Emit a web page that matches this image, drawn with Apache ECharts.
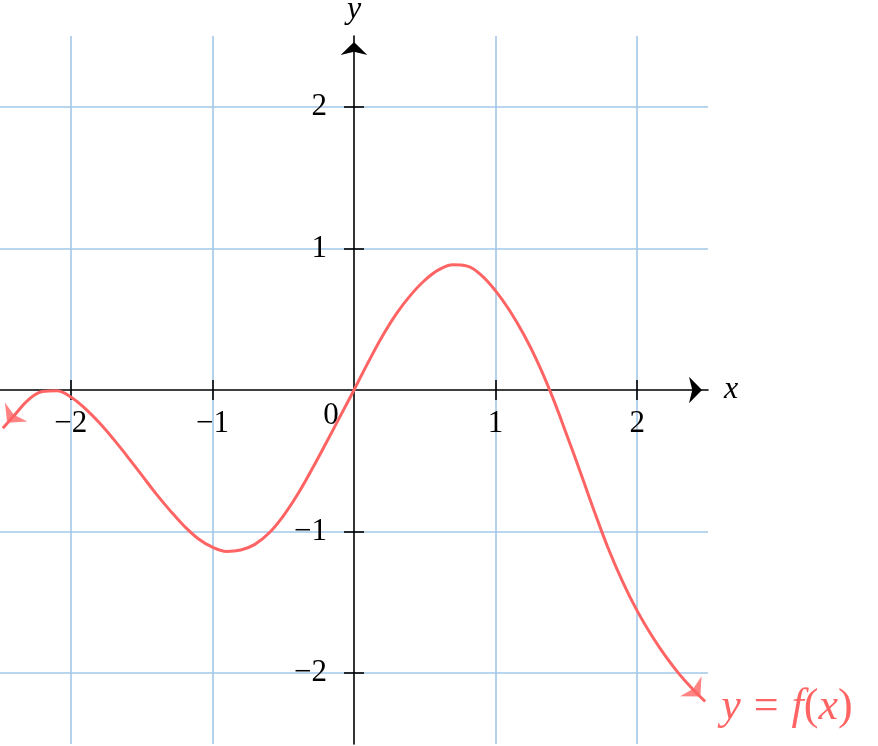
<!DOCTYPE html>
<html>
<head>
<meta charset="utf-8">
<title>y = f(x)</title>
<script src="https://cdn.jsdelivr.net/npm/echarts@6/dist/echarts.min.js"></script>
<style>
  html, body { margin: 0; padding: 0; background: #fff; }
  #chart { width: 878px; height: 746px; }
</style>
</head>
<body>
<div id="chart"></div>
<script>
// curve samples
const xs = [-2.48, -2.4, -2.3, -2.2, -2.1, -2.0, -1.9, -1.8, -1.7, -1.6, -1.5, -1.4, -1.3, -1.2,
  -1.1, -1.0, -0.9, -0.8, -0.7, -0.6, -0.5, -0.4, -0.3, -0.2, -0.1, 0, 0.1, 0.2, 0.3, 0.4,
  0.5, 0.6, 0.7, 0.8, 0.9, 1.0, 1.1, 1.2, 1.3, 1.4, 1.5, 1.6, 1.7, 1.8, 1.9, 2.0, 2.1, 2.2,
  2.3, 2.4, 2.48];
const ys = [-0.27, -0.18, -0.07, -0.01, -0.005, -0.05, -0.13, -0.23, -0.345, -0.47, -0.60, -0.73, -0.85, -0.96,
  -1.05, -1.11, -1.14, -1.13, -1.09, -1.01, -0.89, -0.74, -0.565, -0.38, -0.19, 0, 0.195, 0.38, 0.54, 0.67,
  0.775, 0.85, 0.885, 0.875, 0.81, 0.70, 0.56, 0.39, 0.19, -0.045, -0.31, -0.585, -0.865, -1.13, -1.36, -1.56, -1.73, -1.88,
  -2.01, -2.12, -2.20];

const axisMin = -2.5;
const axisMax = 2.5;
const gridTicks = [-2, -1, 1, 2];
const xLabelTicks = [-2, -1, 0, 1, 2];
const yLabelTicks = [-2, -1, 1, 2];

const RED = "#ff6464";
const BLUE = "#a3c7e9";
const FONT = "'Liberation Serif', 'DejaVu Serif', serif";

// plot box: 708 x 708 square, axes cross in its middle
const BOX = 708;
const MID = -BOX / 2;

const fmt = v => (v < 0 ? "\u2212" + Math.abs(v) : String(v));

const chart = echarts.init(document.getElementById("chart"));

const lineStyle = { color: "#000", width: 1.6 };

const baseAxis = {
  type: "value",
  min: axisMin,
  max: axisMax,
  offset: MID,
  axisLine: { onZero: false, lineStyle: lineStyle },
  axisTick: { show: true, length: 10, customValues: gridTicks, lineStyle: lineStyle },
  splitLine: { show: false }
};

const pts = xs.map((x, i) => [x, ys[i]]);
const last = pts.length - 1;

const option = {
  animation: false,
  grid: { left: 0, top: 36, width: BOX, height: BOX, outerBoundsMode: "none", containLabel: false },
  xAxis: [
    Object.assign({}, baseAxis, {
      position: "bottom",
      name: "x",
      nameLocation: "end",
      nameGap: 16,
      nameTextStyle: { fontFamily: FONT, fontSize: 32, fontStyle: "italic", color: "#000" },
      axisLine: {
        onZero: false,
        symbol: ["none", "arrow"],
        symbolSize: [20, 13],
        symbolOffset: [0, -6],
        lineStyle: lineStyle
      },
      axisLabel: {
        customValues: xLabelTicks,
        margin: 10,
        color: "#000",
        fontFamily: FONT,
        fontSize: 31,
        formatter: v => (v === 0 ? "{z|0}" : "{n|" + fmt(v) + "}"),
        rich: {
          n: { fontFamily: FONT, fontSize: 31, color: "#000", padding: [8, 0, 0, 0] },
          z: { fontFamily: FONT, fontSize: 31, color: "#000", padding: [0, 46, 0, 0] }
        }
      },
      splitLine: { show: true, lineStyle: { color: BLUE, width: 1.6 } }
    }),
    Object.assign({}, baseAxis, {
      position: "bottom",
      axisLine: { show: false, onZero: false },
      axisTick: { show: true, inside: true, length: 10, customValues: gridTicks, lineStyle: lineStyle },
      axisLabel: { show: false }
    })
  ],
  yAxis: [
    Object.assign({}, baseAxis, {
      position: "left",
      name: "y",
      nameLocation: "end",
      nameGap: 10,
      nameTextStyle: { fontFamily: FONT, fontSize: 32, fontStyle: "italic", color: "#000" },
      axisLine: {
        onZero: false,
        symbol: ["none", "arrow"],
        symbolSize: [20, 13],
        symbolOffset: [0, -6],
        lineStyle: lineStyle
      },
      axisLabel: {
        customValues: yLabelTicks,
        margin: 27,
        color: "#000",
        fontFamily: FONT,
        fontSize: 31,
        formatter: fmt
      },
      splitLine: { show: true, lineStyle: { color: BLUE, width: 1.6 } }
    }),
    Object.assign({}, baseAxis, {
      position: "left",
      axisLine: { show: false, onZero: false },
      axisTick: { show: true, inside: true, length: 10, customValues: gridTicks, lineStyle: lineStyle },
      axisLabel: { show: false }
    })
  ],
  series: [
    {
      type: "line",
      data: pts,
      smooth: 0.4,
      showSymbol: false,
      clip: false,
      silent: true,
      lineStyle: { color: RED, width: 3 },
      endLabel: {
        show: true,
        distance: 16,
        offset: [0, 6],
        color: RED,
        fontFamily: FONT,
        fontSize: 44,
        formatter: "{i|y}{e|=}{i|f}({i|x})",
        rich: {
          i: { fontFamily: FONT, fontSize: 44, fontStyle: "italic", color: RED },
          e: { fontFamily: FONT, fontSize: 44, color: RED, padding: [0, 13, 0, 13] }
        }
      },
      z: 3
    },
    {
      // arrow heads at both ends of the curve
      type: "scatter",
      silent: true,
      clip: false,
      symbol: "arrow",
      symbolSize: [22, 14],
      itemStyle: { color: RED },
      data: [
        { value: pts[0], symbolRotate: 140, symbolOffset: [4.3, -5.5] },
        { value: pts[last], symbolRotate: -137, symbolOffset: [-4.8, -5.1] }
      ],
      z: 4
    }
  ]
};

chart.setOption(option);
</script>
</body>
</html>
